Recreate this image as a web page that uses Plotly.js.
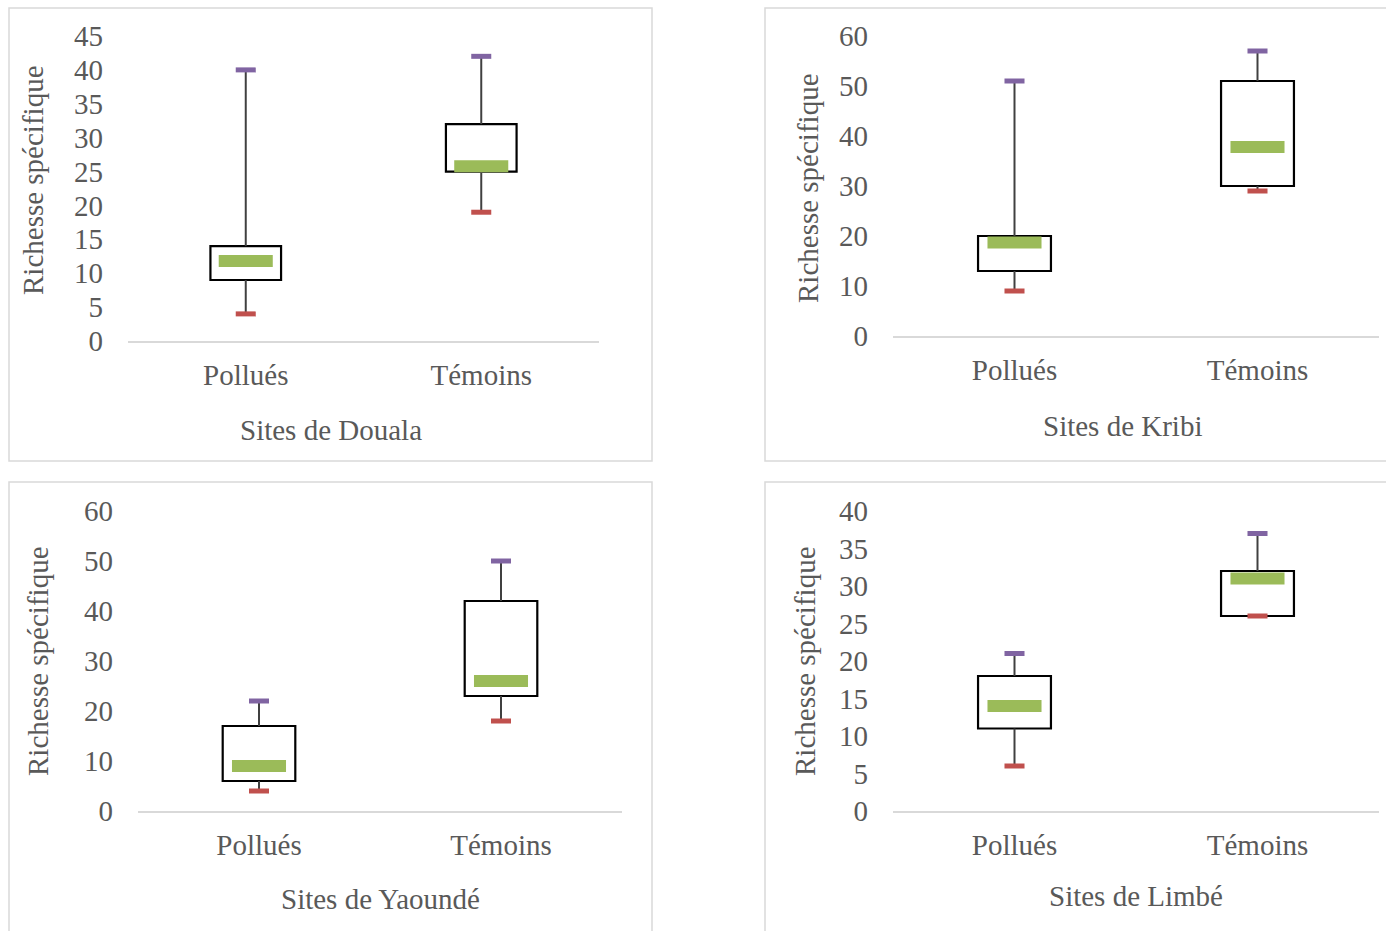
<!DOCTYPE html>
<html>
<head>
<meta charset="utf-8">
<script src="https://cdn.plot.ly/plotly-3.0.1.min.js"></script>
<style>html,body{margin:0;padding:0;background:#fff;}#chart{width:1386px;height:931px;}</style>
</head>
<body>
<div id="chart"></div>
<script>
// ---- data ----
const categories = ['Pollués', 'Témoins'];
const siteNames = ['Sites de Douala', 'Sites de Kribi', 'Sites de Yaoundé', 'Sites de Limbé'];
const yTitle = 'Richesse spécifique';

const doualaMin = [4, 19];
const doualaQ1 = [9, 25];
const doualaMedian = [11.8, 25.8];
const doualaQ3 = [14, 32];
const doualaMax = [40, 42];

const kribiMin = [9, 29];
const kribiQ1 = [13, 30];
const kribiMedian = [18.7, 37.8];
const kribiQ3 = [20, 51];
const kribiMax = [51, 57];

const yaoundeMin = [4, 18];
const yaoundeQ1 = [6, 23];
const yaoundeMedian = [9, 26];
const yaoundeQ3 = [17, 42];
const yaoundeMax = [22, 50];

const limbeMin = [6, 26];
const limbeQ1 = [11, 26];
const limbeMedian = [14, 31];
const limbeQ3 = [18, 32];
const limbeMax = [21, 37];

const yMaxs = [45, 60, 60, 40];
const yDticks = [5, 10, 10, 5];

// ---- layout geometry (px) ----
const W = 1386, H = 931;
const panels = [
  {ax: [128, 599], ay: [341, 36],  border: [9, 8, 652, 461],   xt: [331, 430],  yt: [33, 180]},
  {ax: [893, 1379], ay: [336, 36], border: [765, 8, 1392, 461], xt: [1123, 426], yt: [808, 188]},
  {ax: [138, 622], ay: [811, 511], border: [9, 482, 652, 940],  xt: [380, 899],  yt: [38, 661]},
  {ax: [893, 1379], ay: [811, 511], border: [765, 482, 1392, 940], xt: [1136, 896], yt: [805, 661]}
];

const sitesData = [
  [doualaMin, doualaQ1, doualaMedian, doualaQ3, doualaMax],
  [kribiMin, kribiQ1, kribiMedian, kribiQ3, kribiMax],
  [yaoundeMin, yaoundeQ1, yaoundeMedian, yaoundeQ3, yaoundeMax],
  [limbeMin, limbeQ1, limbeMedian, limbeQ3, limbeMax]
];

const textColor = '#595959';
const fontFam = 'Liberation Serif, Times New Roman, serif';
const FS = 29;
const traces = [];
const layout = {
  width: W, height: H,
  margin: {l: 0, r: 0, t: 0, b: 0},
  paper_bgcolor: '#ffffff', plot_bgcolor: '#ffffff',
  showlegend: false,
  font: {family: fontFam, color: textColor, size: FS},
  shapes: [], annotations: []
};

sitesData.forEach((d, i) => {
  const n = i + 1;
  const xa = n === 1 ? 'x' : 'x' + n;
  const ya = n === 1 ? 'y' : 'y' + n;
  const [mn, q1, med, q3, mx] = d;

  // box (interquartile range) as a floating bar
  traces.push({
    type: 'bar', x: categories, base: q1, y: q3.map((v, k) => v - q1[k]),
    width: 0.3, marker: {color: '#ffffff', line: {color: '#000000', width: 2.2}},
    xaxis: xa, yaxis: ya, hoverinfo: 'skip'
  });
  // whiskers
  const wx = [], wy = [];
  categories.forEach((c, k) => {
    wx.push(c, c, null, c, c, null);
    wy.push(mn[k], q1[k], null, q3[k], mx[k], null);
  });
  traces.push({
    type: 'scatter', mode: 'lines', x: wx, y: wy, xaxis: xa, yaxis: ya,
    line: {color: '#404040', width: 2}, connectgaps: false, hoverinfo: 'skip'
  });
  traces.push({
    type: 'scatter', mode: 'markers', x: categories, y: mn, xaxis: xa, yaxis: ya,
    marker: {symbol: 'line-ew', size: 14.3, line: {color: '#C0504D', width: 5}}, hoverinfo: 'skip'
  });
  traces.push({
    type: 'scatter', mode: 'markers', x: categories, y: mx, xaxis: xa, yaxis: ya,
    marker: {symbol: 'line-ew', size: 14.3, line: {color: '#8064A2', width: 5}}, hoverinfo: 'skip'
  });
  traces.push({
    type: 'scatter', mode: 'markers', x: categories, y: med, xaxis: xa, yaxis: ya,
    marker: {symbol: 'line-ew', size: 38.6, line: {color: '#9BBB59', width: 12}}, hoverinfo: 'skip'
  });

  const p = panels[i];
  const xKey = n === 1 ? 'xaxis' : 'xaxis' + n;
  const yKey = n === 1 ? 'yaxis' : 'yaxis' + n;
  layout[xKey] = {
    domain: [p.ax[0] / W, p.ax[1] / W], anchor: ya, type: 'category',
    range: [-0.5, 1.5], showline: true, linecolor: '#D9D9D9', linewidth: 1.5,
    ticks: '', showgrid: false, zeroline: false, fixedrange: true,
    ticklabelstandoff: 8,
    tickfont: {family: fontFam, size: FS, color: textColor}
  };
  layout[yKey] = {
    domain: [1 - p.ay[0] / H, 1 - p.ay[1] / H], anchor: xa,
    range: [0, yMaxs[i]], dtick: yDticks[i], tick0: 0,
    showline: false, showgrid: false, zeroline: false, ticks: '', fixedrange: true,
    ticklabelstandoff: 24,
    tickfont: {family: fontFam, size: FS, color: textColor}
  };
  layout.shapes.push({
    type: 'rect', xref: 'paper', yref: 'paper', layer: 'below',
    x0: p.border[0] / W, x1: p.border[2] / W, y0: 1 - p.border[1] / H, y1: 1 - p.border[3] / H,
    line: {color: '#D9D9D9', width: 1.5}, fillcolor: 'rgba(0,0,0,0)'
  });
  layout.annotations.push({
    xref: 'paper', yref: 'paper', x: p.xt[0] / W, y: 1 - p.xt[1] / H,
    xanchor: 'center', yanchor: 'middle', showarrow: false, text: siteNames[i],
    font: {family: fontFam, size: FS, color: textColor}
  });
  layout.annotations.push({
    xref: 'paper', yref: 'paper', x: p.yt[0] / W, y: 1 - p.yt[1] / H,
    xanchor: 'center', yanchor: 'middle', showarrow: false, text: yTitle, textangle: -90,
    font: {family: fontFam, size: FS, color: textColor}
  });
});

Plotly.newPlot('chart', traces, layout, {staticPlot: true, displayModeBar: false});
</script>
</body>
</html>
